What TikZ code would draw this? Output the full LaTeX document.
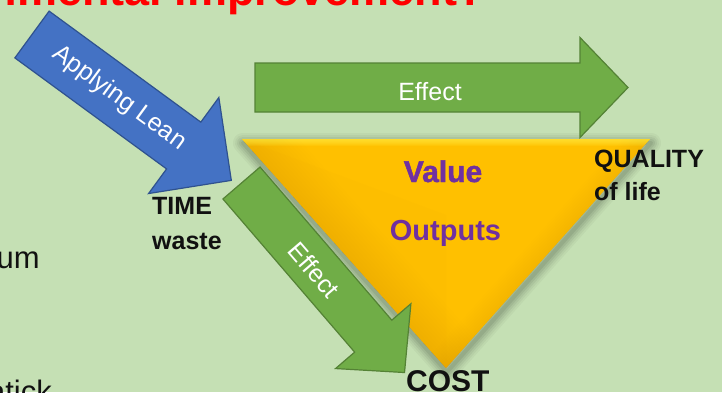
\documentclass[tikz,border=0pt]{standalone}
\usepackage{fontspec}
\setmainfont{Liberation Sans}
\newfontfamily\heavyfont[FakeBold=1.6]{Liberation Sans Bold}

\definecolor{bg}{HTML}{C5E0B4}
\definecolor{grn}{HTML}{70AD47}
\definecolor{grnline}{HTML}{548235}
\definecolor{blu}{HTML}{4472C4}
\definecolor{bluline}{HTML}{2F528F}
\definecolor{gold}{HTML}{FFC000}
\definecolor{golddark}{HTML}{E9A000}
\definecolor{goldlight}{HTML}{FFF24A}
\definecolor{purp}{HTML}{7030A0}
\definecolor{titlered}{HTML}{FF0000}
\definecolor{ink}{HTML}{111111}

% block arrow: style, tail midpoint, angle, length, shaft half-width, head half-width, head length
\newcommand\blockarrow[7]{%
  \begin{scope}[shift={#2}, rotate=#3]
    \draw[#1] (0,#5) -- ({#4-#7},#5) -- ({#4-#7},#6) -- (#4,0)
      -- ({#4-#7},-#6) -- ({#4-#7},-#5) -- (0,-#5) -- cycle;
  \end{scope}}

\begin{document}
\begin{tikzpicture}[x=1pt,y=-1pt,
  greenarrow/.style={fill=grn, draw=grnline, line width=1.2pt, line join=miter},
  bluearrow/.style={fill=blu, draw=bluline, line width=1.2pt, line join=miter},
  arrowtext/.style={inner sep=0pt, text=white, font=\fontsize{25}{30}\selectfont},
  cornerlabel/.style={inner sep=0pt, text=ink, font=\fontsize{25}{30}\selectfont\bfseries},
  bodytext/.style={inner sep=0pt, text=ink, font=\fontsize{31}{36}\selectfont},
  valuetext/.style={inner sep=0pt, text=purp}]

  \useasboundingbox (0,0) rectangle (722,392);
  \fill[bg] (0,0) rectangle (722,392);
  \clip (0,0) rectangle (722,392);

  % heading and body text running off the edges
  \node[inner sep=0pt, anchor=base east, text=titlered,
        font=\fontsize{45}{50}\selectfont\bfseries] (title) at (485,5) {Environmental improvement?};
  \node[bodytext, anchor=base east] (um) at (40,268) {um};
  \node[bodytext, anchor=base east] (atick) at (52,402) {atick};

  % triangle corners
  \coordinate (tl) at (242,139);
  \coordinate (tr) at (650,139);
  \coordinate (bt) at (446,368);
  \coordinate (cen) at (446,215);

  % soft shadow round the triangle
  \foreach \w/\o in {20/0.035, 16/0.04, 12/0.05, 8/0.06, 4/0.07}
    \draw[line width=\w pt, black, opacity=\o, line join=round]
      ([shift={(1,4)}]tl) -- ([shift={(1,4)}]tr) -- ([shift={(1,4)}]bt) -- cycle;

  % gold triangle with bevel shading
  \fill[gold] (tl) -- (tr) -- (bt) -- cycle;
  \begin{scope}
    \clip (tl) -- (tr) -- (bt) -- cycle;
    \foreach \w in {6,12,...,84}
      \draw[line width=\w pt, golddark, opacity=0.028] (tl) -- (bt);
    \foreach \w in {4,8,...,40}
      \draw[line width=\w pt, golddark, opacity=0.02] (tr) -- (bt);
    \fill[golddark, opacity=0.06] (tl) -- (cen) -- (bt) -- cycle;
    \foreach \w in {2,4,...,14}
      \draw[line width=\w pt, goldlight, opacity=0.12] (tl) -- (tr);
  \end{scope}

  % arrows
  \blockarrow{bluearrow}{(32,34.5)}{-36.2}{247}{29}{59.5}{59}
  \blockarrow{greenarrow}{(255,87.5)}{0}{373}{24.5}{50}{48}
  \blockarrow{greenarrow}{(241.5,183)}{-49.3}{250}{24.5}{49.7}{48}

  % arrow labels
  \node[arrowtext, rotate=-36.2] (lean) at (119.2,98.3) {Applying Lean};
  \node[arrowtext, anchor=base] (efftop) at (430,100) {Effect};
  \node[arrowtext, rotate=-49.3] (effdiag) at (314,270) {Effect};

  % triangle labels
  \node[valuetext, anchor=base, font=\heavyfont\fontsize{30}{36}\selectfont] (value) at (443,182) {Value};
  \node[valuetext, anchor=base, font=\fontsize{29}{34}\selectfont\bfseries] (outputs) at (445.5,240) {Outputs};
  \node[cornerlabel, anchor=base west] (quality) at (594,167) {QUALITY};
  \node[cornerlabel, anchor=base west] (life) at (594,200) {of life};
  \node[cornerlabel, anchor=base west] (time) at (152,214) {TIME};
  \node[cornerlabel, anchor=base west] (waste) at (152,249) {waste};
  \node[cornerlabel, anchor=base west, font=\fontsize{30}{36}\selectfont\bfseries] (cost) at (406,391) {COST};
\end{tikzpicture}
\end{document}
